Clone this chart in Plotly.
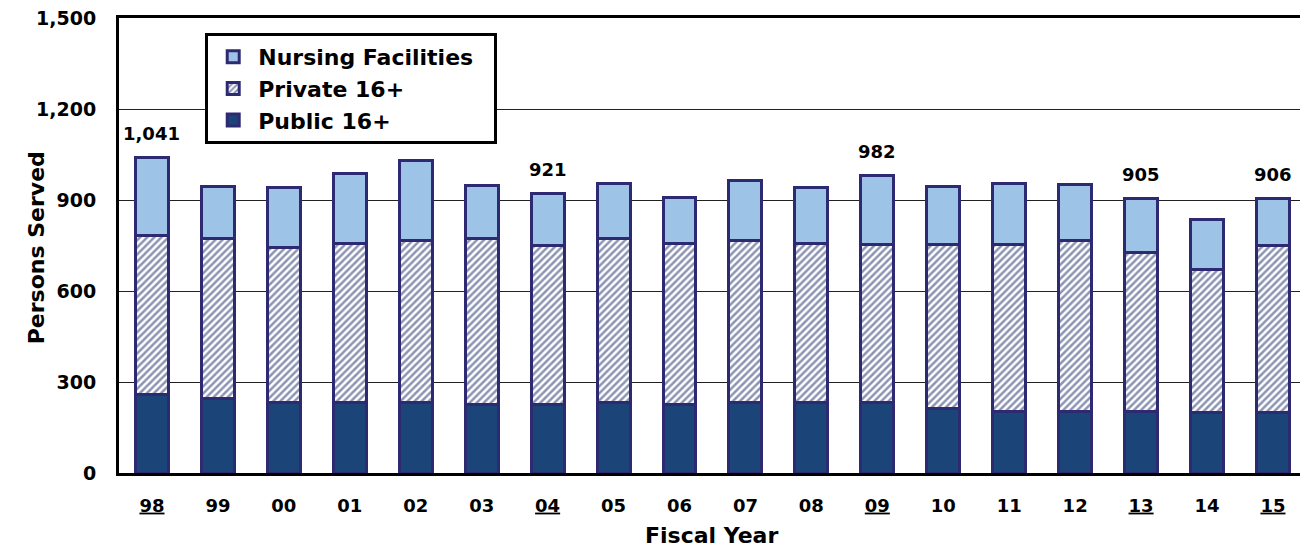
import plotly.graph_objects as go

years = ['98', '99', '00', '01', '02', '03', '04', '05', '06', '07', '08', '09',
         '10', '11', '12', '13', '14', '15']
underlined = ['98', '04', '09', '13', '15']
public = [260, 247, 234, 231, 231, 225, 227, 231, 227, 234, 234, 234, 214, 203, 203, 203, 200, 198]
private = [522, 525, 508, 524, 536, 547, 522, 541, 529, 533, 522, 518, 538, 549, 564, 524, 470, 551]
nursing = [259, 171, 200, 233, 264, 175, 172, 184, 153, 197, 184, 230, 193, 204, 183, 178, 165, 157]
totals = [1041, 943, 942, 988, 1031, 947, 921, 956, 909, 964, 940, 982, 945, 956, 950, 905, 835, 906]
labelled = ['98', '04', '09', '13', '15']

FONT = "DejaVu Sans, Arial, sans-serif"
EDGE = "#2E2A72"

tick_text = [f"<u>{y}</u>" if y in underlined else y for y in years]
xpos = list(range(len(years)))

fig = go.Figure()
fig.add_trace(go.Bar(
    x=xpos, y=public, name="Public 16+",
    marker=dict(color="#1B4479", line=dict(color=EDGE, width=3)),
))
fig.add_trace(go.Bar(
    x=xpos, y=private, name="Private 16+",
    marker=dict(color="white", line=dict(color=EDGE, width=3),
                pattern=dict(shape="/", fgcolor="#1A2A66", bgcolor="white",
                             size=5, solidity=0.5)),
))
fig.add_trace(go.Bar(
    x=xpos, y=nursing, name="Nursing Facilities\u00a0\u00a0",
    marker=dict(color="#9DC3E6", line=dict(color=EDGE, width=3)),
))

for i, (y, t) in enumerate(zip(years, totals)):
    if y in labelled:
        fig.add_annotation(x=i, y=t, text=f"{t:,}", showarrow=False,
                           yshift=24, font=dict(family=FONT, size=18, color="black", weight="bold"))

fig.add_annotation(xref="paper", yref="paper", x=-0.0821, y=0.495, text="Persons Served",
                   textangle=-90, showarrow=False,
                   font=dict(family=FONT, size=22, color="black", weight="bold"))
fig.add_annotation(xref="paper", yref="paper", x=0.502, y=-0.137, yanchor="middle",
                   text="Fiscal Year", showarrow=False,
                   font=dict(family=FONT, size=22, color="black", weight="bold"))

fig.update_layout(
    width=1301, height=550,
    margin=dict(l=119, r=1, t=18, b=77),
    barmode="stack", bargap=0.50,
    plot_bgcolor="white", paper_bgcolor="white",
    font=dict(family=FONT, color="black"),
    legend=dict(x=0.073, y=0.967, xanchor="left", yanchor="top",
                traceorder="reversed", bordercolor="black", borderwidth=3,
                bgcolor="white", font=dict(family=FONT, size=22, color="black", weight="bold"),
                itemwidth=40, tracegroupgap=0),
    xaxis=dict(range=[-0.5, 17.41], tickvals=xpos, ticktext=tick_text,
               showline=True, linecolor="black", linewidth=3, mirror=True,
               ticks="", ticklabelstandoff=14, showgrid=False,
               tickfont=dict(family=FONT, size=18, color="black", weight="bold")),
    yaxis=dict(range=[0, 1500], tickvals=[0, 300, 600, 900, 1200, 1500],
               tickformat=",", showline=True, linecolor="black", linewidth=3,
               showgrid=True, gridcolor="#222222", gridwidth=1, zeroline=False,
               ticks="", ticklabelstandoff=16,
               tickfont=dict(family=FONT, size=19, color="black", weight="bold")),
)

fig.write_html("out.html", config={"displayModeBar": False},
               post_script="document.body.style.margin='0';")
